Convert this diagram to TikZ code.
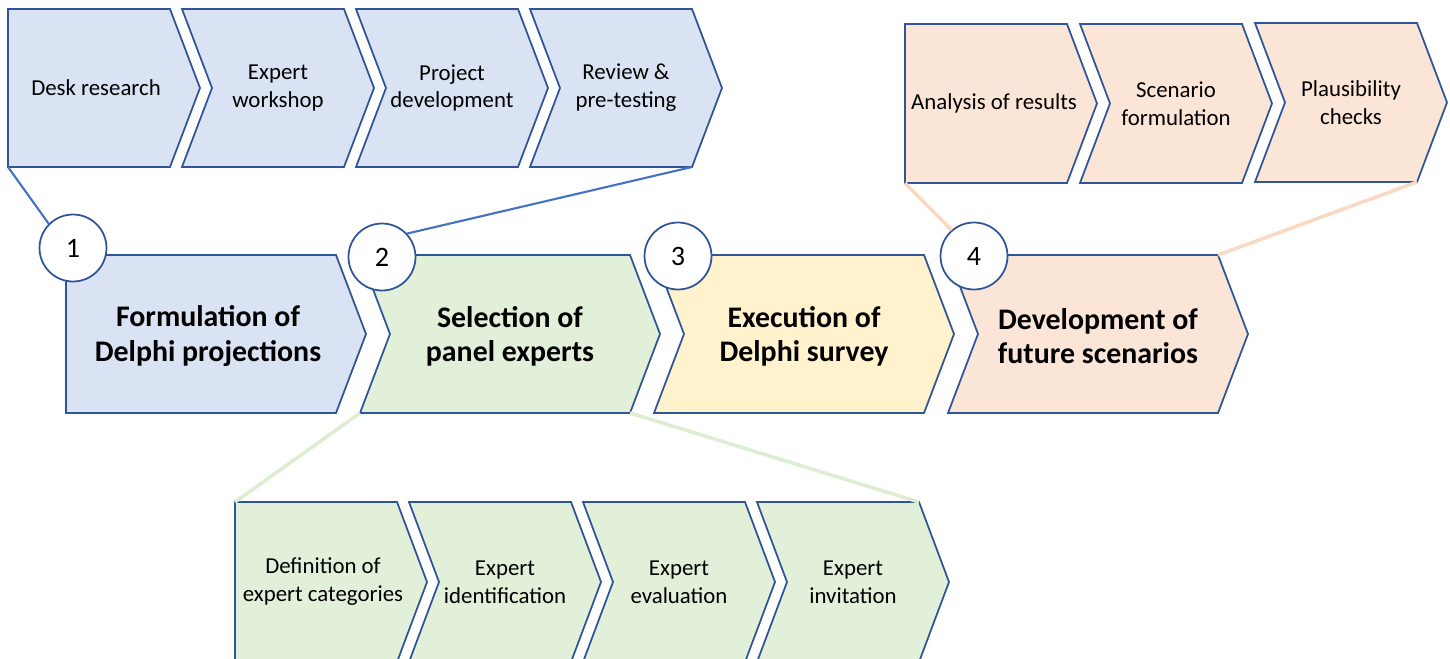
\documentclass[tikz,border=0pt]{standalone}
\usepackage{fontspec}
\setmainfont{Carlito}
\definecolor{edge}{HTML}{2F5597}
\definecolor{fblue}{HTML}{DAE3F3}
\definecolor{fgreen}{HTML}{E2F0D9}
\definecolor{fyellow}{HTML}{FFF2CC}
\definecolor{fpeach}{HTML}{FBE5D6}
\definecolor{lblue}{HTML}{4472C4}
\definecolor{lgreen}{HTML}{DDEDD2}
\definecolor{lpeach}{HTML}{F8D9C4}
% #1 name, #2 left x, #3 top y, #4 bottom y, #5 body width, #6 notch depth, #7 fill, #8 text style, #9 text
\newcommand{\chevshape}[9]{%
  \path[draw=edge,line width=1pt,line join=miter,fill=#7] (#2,#3) -- ({#2+#5},#3) -- ({#2+#5+30},{(#3+#4)/2}) -- ({#2+#5},#4) -- (#2,#4) -- ({#2+#6},{(#3+#4)/2}) -- cycle;
  \coordinate (#1-nw) at (#2,#3);
  \coordinate (#1-ne) at ({#2+#5},#3);
  \coordinate (#1-sw) at (#2,#4);
  \coordinate (#1-se) at ({#2+#5},#4);
  \node[#8] (#1) at ({#2+(#5+30)/2},{(#3+#4)/2}) {#9};
}
\tikzset{
  small/.style={align=center,font=\fontsize{13}{15.9}\selectfont,inner sep=0pt},
  big/.style={align=center,font=\fontsize{17}{19.5}\selectfont\bfseries,inner sep=0pt},
  num/.style={circle,draw=edge,line width=1pt,fill=white,minimum size=1.34cm,inner sep=0pt,font=\fontsize{16}{19}\selectfont},
  bluelink/.style={draw=lblue,line width=1.2pt},
  greenlink/.style={draw=lgreen,line width=2pt},
  peachlink/.style={draw=lpeach,line width=2pt},
}
\begin{document}
\begin{tikzpicture}[x=0.02cm,y=-0.02cm]
\useasboundingbox (0,0) rectangle (1450,659);
% top blue row
\chevshape{desk}{8}{9}{167}{162}{0}{fblue}{small,xshift=-0.16cm}{Desk research}
\chevshape{work}{182}{9}{167}{162}{30}{fblue}{small}{Expert\\workshop}
\chevshape{proj}{356}{9}{167}{162}{30}{fblue}{small}{Project\\development}
\chevshape{rev}{530}{9}{167}{162}{30}{fblue}{small}{Review \&\\pre-testing}
% top peach row
\chevshape{ana}{905}{24}{183}{162}{0}{fpeach}{small,xshift=-0.14cm}{Analysis of results}
\chevshape{scen}{1080}{24}{183}{162}{30}{fpeach}{small}{Scenario\\formulation}
\chevshape{plaus}{1255}{23}{182}{162}{30}{fpeach}{small}{Plausibility\\checks}
% bottom green row
\chevshape{defn}{235}{502}{662}{162}{0}{fgreen}{small,xshift=-0.16cm}{Definition of\\expert categories}
\chevshape{ident}{409}{502}{662}{162}{30}{fgreen}{small}{Expert\\identification}
\chevshape{eval}{583}{502}{662}{162}{30}{fgreen}{small}{Expert\\evaluation}
\chevshape{invit}{757}{502}{662}{162}{30}{fgreen}{small}{Expert\\invitation}
% main row
\chevshape{form}{66}{255}{413}{270}{0}{fblue}{big,xshift=-0.16cm,yshift=-0.04cm}{Formulation of\\Delphi projections}
\chevshape{sel}{360}{255}{413}{270}{30}{fgreen}{big,yshift=-0.04cm}{Selection of\\panel experts}
\chevshape{exec}{654}{255}{413}{270}{30}{fyellow}{big,yshift=-0.04cm}{Execution of\\Delphi survey}
\chevshape{dev}{948}{255}{413}{270}{30}{fpeach}{big,yshift=-0.04cm}{Development of\\future scenarios}
% circles
\node[num] (c1) at (73,248) {1};
\node[num] (c2) at (382,257) {2};
\node[num] (c3) at (678,256) {3};
\node[num] (c4) at (974,256) {4};
% connectors
\draw[bluelink] (desk-sw) -- (c1.135);
\draw[bluelink] (rev-se) -- (c2.43);
\draw[greenlink] (sel-sw) -- (defn-nw);
\draw[greenlink] (sel-se) -- (invit-ne);
\draw[peachlink] (ana-sw) -- (c4.131);
\draw[peachlink] (plaus-se) -- (dev-ne);
\end{tikzpicture}
\end{document}
